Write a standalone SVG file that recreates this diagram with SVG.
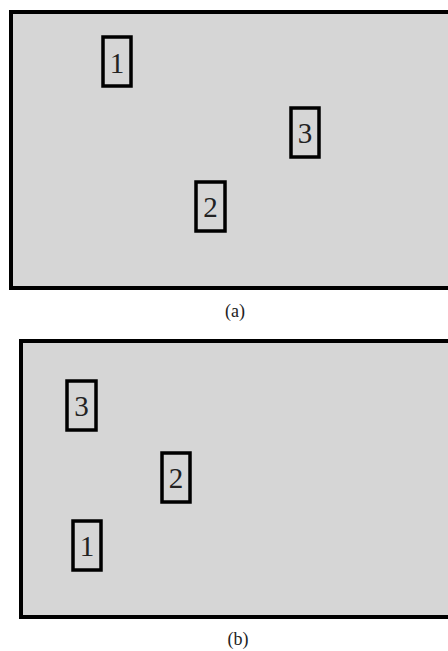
<svg xmlns="http://www.w3.org/2000/svg" width="448" height="651" viewBox="0 0 448 651">
<style>
.panel{fill:#d6d6d6;stroke:#000;stroke-width:4}
.box{fill:#d6d6d6;stroke:#000;stroke-width:3.5}
.num{font-family:"Liberation Serif",serif;font-size:29px;text-anchor:middle;fill:#222}
.cap{font-family:"Liberation Serif",serif;font-size:18px;text-anchor:middle;fill:#222}
</style>
<rect width="448" height="651" fill="#fff"/>
<g id="panel-a">
<rect class="panel" x="11" y="12" width="450" height="276"/>
<g id="a-node-1"><rect class="box" x="103" y="37" width="28" height="49"/><text class="num" x="117" y="73">1</text></g>
<g id="a-node-3"><rect class="box" x="291" y="108" width="28" height="49"/><text class="num" x="305" y="143">3</text></g>
<g id="a-node-2"><rect class="box" x="196" y="182" width="29" height="49"/><text class="num" x="210.5" y="217">2</text></g>
<text class="cap" x="235" y="317">(a)</text>
</g>
<g id="panel-b">
<rect class="panel" x="21" y="341" width="440" height="276"/>
<g id="b-node-3"><rect class="box" x="67" y="381" width="29" height="49"/><text class="num" x="81.5" y="416">3</text></g>
<g id="b-node-2"><rect class="box" x="162" y="453" width="28" height="49"/><text class="num" x="176" y="488">2</text></g>
<g id="b-node-1"><rect class="box" x="73" y="521" width="28" height="49"/><text class="num" x="87" y="556">1</text></g>
<text class="cap" x="238" y="645">(b)</text>
</g>
<g id="connectors"/>
</svg>
